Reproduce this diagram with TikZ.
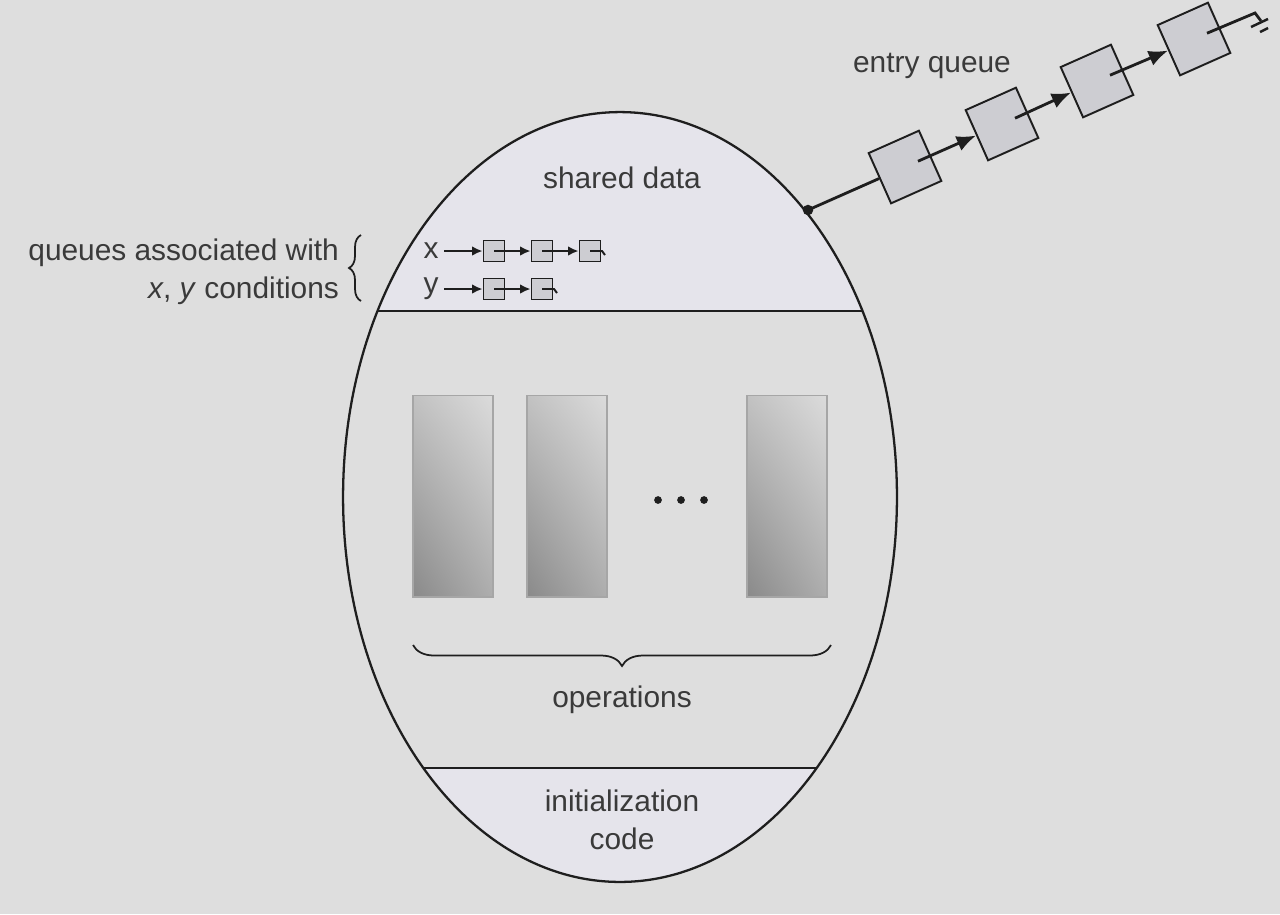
\documentclass[tikz,border=0pt]{standalone}
\usepackage{fontspec}
\setmainfont{Liberation Sans}
\usetikzlibrary{positioning,arrows.meta,calc,decorations.pathreplacing,shadings}
\definecolor{bggray}{HTML}{DEDEDE}
\definecolor{capfill}{HTML}{E5E4EB}
\definecolor{boxgray}{HTML}{CDCDD2}
\definecolor{txtgray}{HTML}{3A3A3A}
\definecolor{inkgray}{HTML}{1E1E1E}

\begin{document}
\begin{tikzpicture}[
  x=0.02cm, y=-0.02cm,
  lbl/.style={text=txtgray, font=\fontsize{17}{21.5}\selectfont, inner sep=1pt},
  qbox/.style={draw=inkgray, fill=boxgray, line width=1pt, minimum size=0.42cm, inner sep=0pt},
  ebox/.style={draw=inkgray, fill=boxgray, line width=1.1pt, minimum size=1.1cm, inner sep=0pt, rotate=24},
  opbox/.style={draw=gray!70, line width=0.6pt, minimum width=1.6cm, minimum height=4.04cm, inner sep=0pt,
                upper right=black!14, upper left=black!24, lower right=black!32, lower left=black!46},
  qptr/.style={draw=inkgray, line width=1.2pt, -{Latex[length=6pt,width=5.5pt]}},
  eptr/.style={draw=inkgray, line width=1.6pt, -{Latex[length=11pt,width=9pt]}},
  eline/.style={draw=inkgray, line width=1.6pt}
]

% background
\fill[bggray] (0,0) rectangle (1280,914);
\useasboundingbox (0,0) rectangle (1280,914);

% monitor
\coordinate (mc) at (620,497);
\begin{scope}
  \clip (mc) ellipse [x radius=5.54cm, y radius=7.7cm];
  \fill[capfill] (300,100) rectangle (950,311);
  \fill[capfill] (300,768) rectangle (950,900);
  \draw[inkgray, line width=1.3pt] (300,311) -- (950,311);
  \draw[inkgray, line width=1.3pt] (300,768) -- (950,768);
\end{scope}
\draw[inkgray, line width=1.3pt] (mc) ellipse [x radius=5.54cm, y radius=7.7cm];

\node[lbl] (shared) at (622,178) {shared data};
\node[lbl, align=center] (init) at (622,820) {initialization\\code};

% condition queues
\node[lbl, align=right, anchor=east] (qlabel) at (341,272) {queues associated with\\\textit{x}, \textit{y} conditions};
\draw[inkgray, line width=1pt, decorate, decoration={brace, amplitude=0.24cm}] (361,301) -- (361,235);

\node[lbl] (xl) at (431,251) {x};
\node[lbl] (yl) at (431,289) {y};
\foreach \i/\x in {1/494,2/542,3/590}
  \node[qbox] (x\i) at (\x,251) {};
\foreach \i/\x in {1/494,2/542}
  \node[qbox] (y\i) at (\x,289) {};

\draw[qptr, shorten <=2pt] (xl) -- (x1);
\draw[qptr, shorten <=2pt] (yl) -- (y1);
\foreach \i/\j in {1/2,2/3}
  \draw[qptr] (x\i.center) -- (x\j.west);
\draw[qptr] (y1.center) -- (y2.west);
\draw[inkgray, line width=1.1pt] (x3.center) -- ++(12,0) -- ++(3,4);
\draw[inkgray, line width=1.1pt] (y2.center) -- ++(12,0) -- ++(3,4);

% operations
\foreach \i/\x in {1/453,2/567,3/787}
  \node[opbox] (op\i) at (\x,496) {};
\foreach \x in {658,681,704}
  \fill[inkgray] (\x,500) circle[radius=2.2pt];
\draw[inkgray, line width=1pt, decorate, decoration={brace, mirror, amplitude=0.42cm}] (413,645) -- (831,645);
\node[lbl] (ops) at (622,700) {operations};

% entry queue
\node[lbl] (eq) at (932,66) {entry queue};
\node[circle, fill=inkgray, inner sep=0pt, minimum size=6pt] (entry) at (808,210) {};
\foreach \i/\x/\y in {1/905/167,2/1002/124,3/1097/81,4/1194/39}
  \node[ebox] (e\i) at (\x,\y) {};

\draw[eline] (entry.center) -- (e1.west);
\foreach \i/\j in {1/2,2/3,3/4}
  \draw[eptr] ($(e\i.center)!0.5!(e\i.east)$) -- (e\j.west);

\coordinate (qend) at (1255,13);
\draw[eline] ($(e4.center)!0.5!(e4.east)$) -- (qend) -- ++(6,8);
\draw[inkgray, line width=1.4pt] (1251,27) -- (1268,19);
\draw[inkgray, line width=1.4pt] (1260,32) -- (1268,28);

\end{tikzpicture}
\end{document}
